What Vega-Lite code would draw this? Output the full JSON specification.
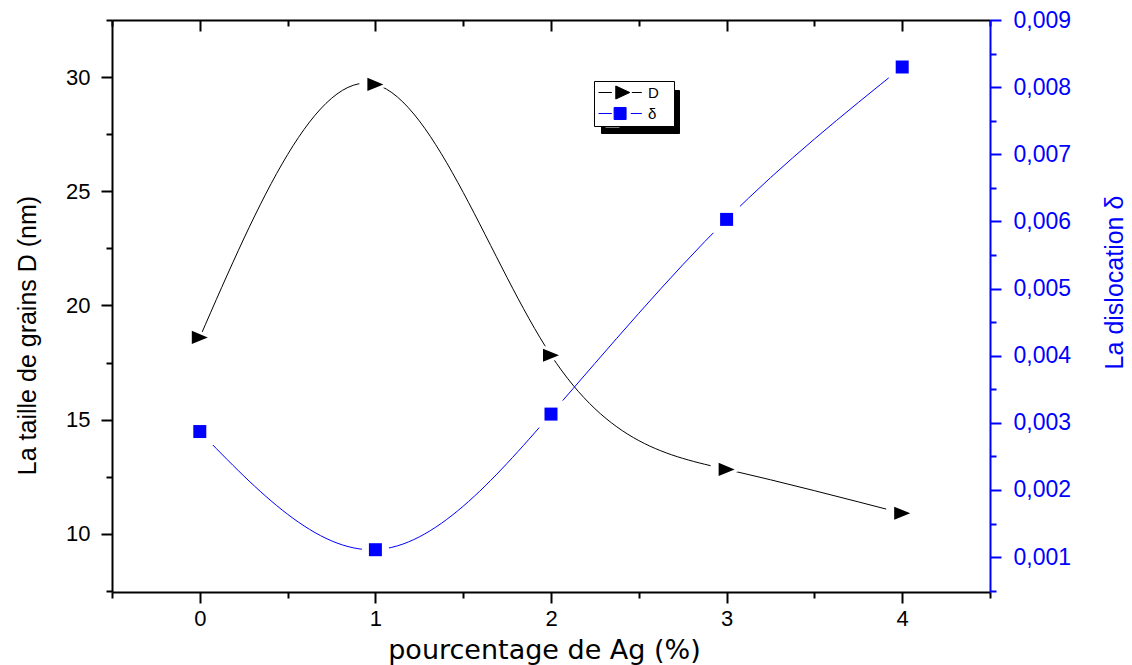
{
  "$schema": "https://vega.github.io/schema/vega-lite/v6.json",
  "width": 878,
  "height": 572,
  "autosize": "none",
  "padding": {"left": 112, "top": 20, "right": 142, "bottom": 73},
  "background": "white",
  "config": {
    "view": {"stroke": null},
    "axis": {
      "grid": false,
      "domainWidth": 2,
      "tickWidth": 2,
      "domainColor": "black",
      "tickColor": "black",
      "labelColor": "black",
      "titleColor": "black",
      "labelFont": "Liberation Sans",
      "titleFont": "Liberation Sans",
      "titleFontWeight": "normal",
      "labelFlush": false,
      "labelOverlap": false
    }
  },
  "data": {
    "values": [
      {"pct": 0, "serie": "D", "val": 18.6},
      {"pct": 1, "serie": "D", "val": 29.68},
      {"pct": 2, "serie": "D", "val": 17.82},
      {"pct": 3, "serie": "D", "val": 12.82},
      {"pct": 4, "serie": "D", "val": 10.9},
      {"pct": 0, "serie": "δ", "val": 0.00287},
      {"pct": 1, "serie": "δ", "val": 0.00111},
      {"pct": 2, "serie": "δ", "val": 0.00313},
      {"pct": 3, "serie": "δ", "val": 0.00603},
      {"pct": 4, "serie": "δ", "val": 0.0083}
    ]
  },
  "layer": [
    {
      "transform": [{"filter": "datum.serie === 'D'"}],
      "encoding": {
        "x": {
          "field": "pct",
          "type": "quantitative",
          "scale": {"domain": [-0.5, 4.5], "nice": false, "zero": false},
          "axis": {
            "orient": "bottom",
            "values": [-0.5, 0, 0.5, 1, 1.5, 2, 2.5, 3, 3.5, 4, 4.5],
            "labelExpr": "datum.value % 1 === 0 ? format(datum.value, 'd') : ''",
            "tickSize": {"condition": {"test": "datum.value % 1 === 0", "value": 11}, "value": 6},
            "labelPadding": 5,
            "labelFontSize": 22,
            "title": "pourcentage de Ag (%)",
            "titleFont": "DejaVu Sans",
            "titleFontSize": 27,
            "titleX": 432,
            "titleY": 66,
            "titleAlign": "center",
            "titleBaseline": "alphabetic"
          }
        },
        "y": {
          "field": "val",
          "type": "quantitative",
          "scale": {"domain": [7.45, 32.5], "nice": false, "zero": false},
          "axis": {
            "orient": "left",
            "values": [7.5, 10, 12.5, 15, 17.5, 20, 22.5, 25, 27.5, 30, 32.5],
            "labelExpr": "datum.value % 5 === 0 ? format(datum.value, 'd') : ''",
            "tickSize": {"condition": {"test": "datum.value % 5 === 0", "value": 11}, "value": 6},
            "labelPadding": 11,
            "labelFontSize": 22,
            "title": "La taille de grains D (nm)",
            "titleFontSize": 25,
            "titleAngle": 270,
            "titleX": -77,
            "titleY": 315,
            "titleAlign": "center",
            "titleBaseline": "alphabetic"
          }
        }
      },
      "layer": [
        {
          "mark": {"type": "line", "interpolate": "natural", "strokeWidth": 1},
          "encoding": {
            "stroke": {
              "field": "serie",
              "type": "nominal",
              "scale": {"range": ["#000000", "#0000ff"]},
              "legend": {
                "orient": "none",
                "legendX": 482,
                "legendY": 61,
                "zindex": 2,
                "title": null,
                "padding": 4,
                "fillColor": "white",
                "strokeColor": "black",
                "labelFont": "Liberation Sans",
                "labelFontSize": 15,
                "labelColor": "black",
                "labelOffset": 35,
                "symbolSize": 196,
                "symbolStrokeWidth": 1,
                "rowPadding": 3,
                "encode": {
                  "symbols": {
                    "update": {
                      "shape": {"signal": "datum.value === 'D' ? 'M-1,0L0.9,0M1.47,-0.93L3.47,0L1.47,0.93ZM3.76,0L5.19,0M8.9,0' : 'M-1,0L0.9,0M1.23,-0.86L2.94,-0.86L2.94,0.86L1.23,0.86ZM3.61,0L5.19,0M8.9,0'"},
                      "size": {"value": 196},
                      "fill": {"signal": "datum.value === 'D' ? '#000000' : '#0000ff'"},
                      "stroke": {"signal": "datum.value === 'D' ? '#000000' : '#0000ff'"},
                      "opacity": {"value": 1}
                    }
                  }
                }
              }
            }
          }
        },
        {
          "mark": {"type": "point", "filled": true, "fill": "white", "stroke": null, "opacity": 1, "size": 1024},
          "encoding": {
            "shape": {
              "field": "serie",
              "type": "nominal",
              "scale": {"domain": ["D", "δ"], "range": ["M-1,-0.82L1,0L-1,0.82Z", "square"]},
              "legend": {
                "orient": "none",
                "legendX": 489,
                "legendY": 70,
                "zindex": 1,
                "title": null,
                "padding": 4,
                "fillColor": "black",
                "strokeColor": "black",
                "labelFont": "Liberation Sans",
                "labelFontSize": 15,
                "labelColor": "black",
                "labelOffset": 55,
                "labelExpr": "''",
                "symbolSize": 196,
                "symbolStrokeWidth": 1,
                "rowPadding": 3,
                "encode": {
                  "symbols": {
                    "update": {
                      "size": {"value": 196},
                      "opacity": {"value": 0}
                    }
                  }
                }
              }
            }
          }
        },
        {
          "mark": {"type": "point", "filled": true, "fill": "#000000", "stroke": null, "opacity": 1, "size": 256},
          "encoding": {
            "shape": {
              "field": "serie",
              "type": "nominal",
              "scale": {"domain": ["D", "δ"], "range": ["M-1,-0.82L1,0L-1,0.82Z", "square"]},
              "legend": null
            }
          }
        }
      ]
    },
    {
      "transform": [{"filter": "datum.serie === 'δ'"}],
      "encoding": {
        "x": {
          "field": "pct",
          "type": "quantitative",
          "scale": {"domain": [-0.5, 4.5], "nice": false, "zero": false},
          "axis": {
            "orient": "top",
            "values": [-0.5, 0, 0.5, 1, 1.5, 2, 2.5, 3, 3.5, 4, 4.5],
            "labels": false,
            "tickSize": {"condition": {"test": "datum.value % 1 === 0", "value": -11}, "value": -6},
            "title": null
          }
        },
        "y": {
          "field": "val",
          "type": "quantitative",
          "scale": {"domain": [0.00048, 0.009], "nice": false, "zero": false},
          "axis": {
            "orient": "right",
            "values": [0.0005, 0.001, 0.0015, 0.002, 0.0025, 0.003, 0.0035, 0.004, 0.0045, 0.005, 0.0055, 0.006, 0.0065, 0.007, 0.0075, 0.008, 0.0085, 0.009],
            "labelExpr": "abs(datum.value * 1000 - round(datum.value * 1000)) < 1e-6 ? replace(format(datum.value, '.3f'), '.', ',') : ''",
            "tickSize": {"condition": {"test": "abs(datum.value * 1000 - round(datum.value * 1000)) < 1e-6", "value": 11}, "value": 6},
            "labelPadding": 12,
            "labelFontSize": 23,
            "labelColor": "#0000ff",
            "domainColor": "#0000ff",
            "tickColor": "#0000ff",
            "title": "La dislocation δ",
            "titleColor": "#0000ff",
            "titleFontSize": 25,
            "titleAngle": 270,
            "titleX": 132,
            "titleY": 262,
            "titleAlign": "center",
            "titleBaseline": "alphabetic"
          }
        }
      },
      "layer": [
        {
          "mark": {"type": "line", "interpolate": "natural", "strokeWidth": 1},
          "encoding": {
            "stroke": {
              "field": "serie",
              "type": "nominal",
              "scale": {"range": ["#000000", "#0000ff"]},
              "legend": null
            }
          }
        },
        {
          "mark": {"type": "point", "filled": true, "fill": "white", "stroke": null, "opacity": 1, "size": 729},
          "encoding": {
            "shape": {
              "field": "serie",
              "type": "nominal",
              "scale": {"domain": ["D", "δ"], "range": ["M-1,-0.82L1,0L-1,0.82Z", "square"]},
              "legend": null
            }
          }
        },
        {
          "mark": {"type": "point", "filled": true, "fill": "#0000ff", "stroke": null, "opacity": 1, "size": 169},
          "encoding": {
            "shape": {
              "field": "serie",
              "type": "nominal",
              "scale": {"domain": ["D", "δ"], "range": ["M-1,-0.82L1,0L-1,0.82Z", "square"]},
              "legend": null
            }
          }
        }
      ]
    }
  ],
  "resolve": {"scale": {"y": "independent"}, "axis": {"x": "independent"}}
}
